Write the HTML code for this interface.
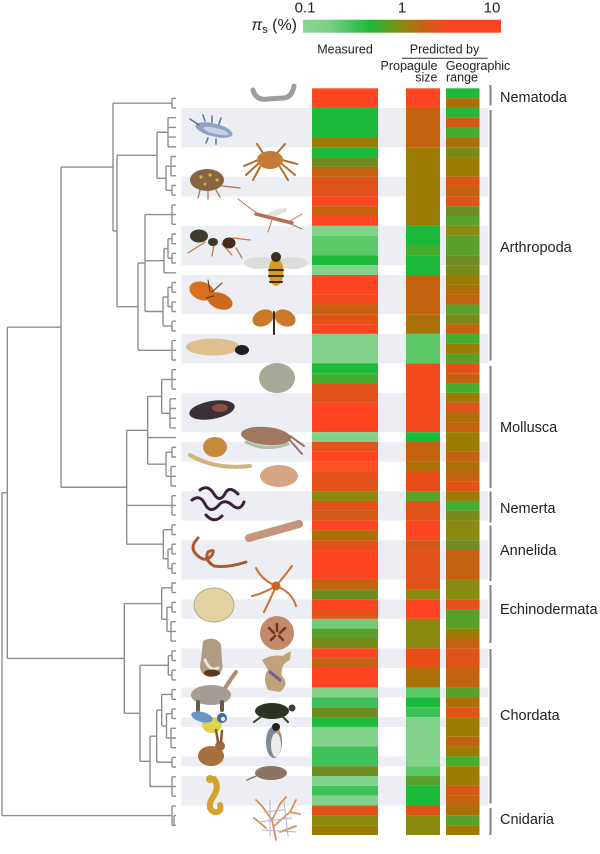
<!DOCTYPE html>
<html>
<head>
<meta charset="utf-8">
<style>
html,body{margin:0;padding:0;background:#fff;}
svg{display:block;}
text{font-family:"Liberation Sans",Arial,sans-serif;fill:#222;}
</style>
</head>
<body>
<svg width="600" height="854" viewBox="0 0 600 854" xmlns="http://www.w3.org/2000/svg">
<defs>
<linearGradient id="cb" x1="0" x2="1" y1="0" y2="0">
<stop offset="0" stop-color="#8bd595"/>
<stop offset="0.12" stop-color="#7dd08a"/>
<stop offset="0.34" stop-color="#1db93b"/>
<stop offset="0.50" stop-color="#8a8a10"/>
<stop offset="0.62" stop-color="#d05c14"/>
<stop offset="0.74" stop-color="#ff4521"/>
<stop offset="1" stop-color="#ff4521"/>
</linearGradient>
</defs>
<rect width="600" height="854" fill="#fff"/>

<!-- header -->
<text x="305" y="12.7" font-size="15" text-anchor="middle">0.1</text>
<text x="402" y="12.7" font-size="15" text-anchor="middle">1</text>
<text x="492" y="12.7" font-size="15" text-anchor="middle">10</text>
<rect x="303" y="19.7" width="198" height="13" fill="url(#cb)"/>
<text x="297" y="30" font-size="16" text-anchor="end"><tspan font-style="italic">π</tspan><tspan font-size="11" dy="3">s</tspan><tspan dy="-3"> (%)</tspan></text>
<text x="345" y="53.3" font-size="12.5" text-anchor="middle">Measured</text>
<text x="444.5" y="53.3" font-size="12.5" text-anchor="middle">Predicted by</text>
<line x1="401.7" y1="58.3" x2="487.7" y2="58.3" stroke="#333" stroke-width="1"/>
<text x="437.5" y="70" font-size="12.5" text-anchor="end">Propagule</text>
<text x="437.5" y="81.5" font-size="12.5" text-anchor="end">size</text>
<text x="445.7" y="70" font-size="12.5">Geographic</text>
<text x="446" y="81.5" font-size="12.5">range</text>

<!-- gray bands + heatmap -->
<g transform="translate(0,88.3) scale(1,9.825)">
<g fill="#eceef3">
<rect x="181.5" y="2" width="306.5" height="4"/>
<rect x="181.5" y="9" width="306.5" height="2"/>
<rect x="181.5" y="14" width="306.5" height="4"/>
<rect x="181.5" y="19" width="306.5" height="4"/>
<rect x="181.5" y="25" width="306.5" height="3"/>
<rect x="181.5" y="31" width="306.5" height="4"/>
<rect x="181.5" y="36" width="306.5" height="2"/>
<rect x="181.5" y="41" width="306.5" height="3"/>
<rect x="181.5" y="46" width="306.5" height="4"/>
<rect x="181.5" y="52" width="306.5" height="2"/>
<rect x="181.5" y="57" width="306.5" height="2"/>
<rect x="181.5" y="61" width="306.5" height="1"/>
<rect x="181.5" y="64" width="306.5" height="1"/>
<rect x="181.5" y="68" width="306.5" height="1"/>
<rect x="181.5" y="70" width="306.5" height="3"/>
</g>
<!-- Measured -->
<g>
<rect x="312" width="66" y="0" height="2" fill="#ff4521"/>
<rect x="312" width="66" y="2" height="3" fill="#1db93b"/>
<rect x="312" width="66" y="5" height="1" fill="#9c7c02"/>
<rect x="312" width="66" y="6" height="1" fill="#1db93b"/>
<rect x="312" width="66" y="7" height="1" fill="#6e8c22"/>
<rect x="312" width="66" y="8" height="1" fill="#c4620f"/>
<rect x="312" width="66" y="9" height="2" fill="#e2531a"/>
<rect x="312" width="66" y="11" height="1" fill="#ff4521"/>
<rect x="312" width="66" y="12" height="1" fill="#c4620f"/>
<rect x="312" width="66" y="13" height="1" fill="#ff4521"/>
<rect x="312" width="66" y="14" height="1" fill="#82d18b"/>
<rect x="312" width="66" y="15" height="2" fill="#5dc868"/>
<rect x="312" width="66" y="17" height="1" fill="#1db93b"/>
<rect x="312" width="66" y="18" height="1" fill="#82d18b"/>
<rect x="312" width="66" y="19" height="2" fill="#ff4521"/>
<rect x="312" width="66" y="21" height="1" fill="#f44a1e"/>
<rect x="312" width="66" y="22" height="1" fill="#c4620f"/>
<rect x="312" width="66" y="23" height="1" fill="#e2531a"/>
<rect x="312" width="66" y="24" height="1" fill="#ff4521"/>
<rect x="312" width="66" y="25" height="3" fill="#82d18b"/>
<rect x="312" width="66" y="28" height="1" fill="#1db93b"/>
<rect x="312" width="66" y="29" height="1" fill="#45ac30"/>
<rect x="312" width="66" y="30" height="2" fill="#e2531a"/>
<rect x="312" width="66" y="32" height="3" fill="#ff4521"/>
<rect x="312" width="66" y="35" height="1" fill="#82d18b"/>
<rect x="312" width="66" y="36" height="1" fill="#e2531a"/>
<rect x="312" width="66" y="37" height="1" fill="#ff4521"/>
<rect x="312" width="66" y="38" height="1" fill="#ff5026"/>
<rect x="312" width="66" y="39" height="2" fill="#e2531a"/>
<rect x="312" width="66" y="41" height="1" fill="#898a10"/>
<rect x="312" width="66" y="42" height="1" fill="#e2531a"/>
<rect x="312" width="66" y="43" height="1" fill="#d25a14"/>
<rect x="312" width="66" y="44" height="1" fill="#ff4521"/>
<rect x="312" width="66" y="45" height="1" fill="#ad6f08"/>
<rect x="312" width="66" y="46" height="1" fill="#e2531a"/>
<rect x="312" width="66" y="47" height="3" fill="#ff4521"/>
<rect x="312" width="66" y="50" height="1" fill="#c4620f"/>
<rect x="312" width="66" y="51" height="1" fill="#6e8c22"/>
<rect x="312" width="66" y="52" height="1" fill="#ff4521"/>
<rect x="312" width="66" y="53" height="1" fill="#e2531a"/>
<rect x="312" width="66" y="54" height="1" fill="#70cc78"/>
<rect x="312" width="66" y="55" height="1" fill="#58a02a"/>
<rect x="312" width="66" y="56" height="1" fill="#7a8a1a"/>
<rect x="312" width="66" y="57" height="1" fill="#ff4521"/>
<rect x="312" width="66" y="58" height="1" fill="#c4620f"/>
<rect x="312" width="66" y="59" height="2" fill="#ff4521"/>
<rect x="312" width="66" y="61" height="1" fill="#82d18b"/>
<rect x="312" width="66" y="62" height="1" fill="#3ec159"/>
<rect x="312" width="66" y="63" height="1" fill="#6e8c22"/>
<rect x="312" width="66" y="64" height="1" fill="#1db93b"/>
<rect x="312" width="66" y="65" height="2" fill="#82d18b"/>
<rect x="312" width="66" y="67" height="2" fill="#3ec159"/>
<rect x="312" width="66" y="69" height="1" fill="#6e8c22"/>
<rect x="312" width="66" y="70" height="1" fill="#82d18b"/>
<rect x="312" width="66" y="71" height="1" fill="#3ec159"/>
<rect x="312" width="66" y="72" height="1" fill="#82d18b"/>
<rect x="312" width="66" y="73" height="1" fill="#e2531a"/>
<rect x="312" width="66" y="74" height="1" fill="#898a10"/>
<rect x="312" width="66" y="75" height="1" fill="#9c7c02"/>
</g>
<!-- Propagule -->
<g>
<rect x="406" width="34" y="0" height="2" fill="#ff4521"/>
<rect x="406" width="34" y="2" height="4" fill="#c4620f"/>
<rect x="406" width="34" y="6" height="8" fill="#9c7c02"/>
<rect x="406" width="34" y="14" height="2" fill="#1db93b"/>
<rect x="406" width="34" y="16" height="1" fill="#45ac30"/>
<rect x="406" width="34" y="17" height="2" fill="#1db93b"/>
<rect x="406" width="34" y="19" height="4" fill="#c4620f"/>
<rect x="406" width="34" y="23" height="2" fill="#ad6f08"/>
<rect x="406" width="34" y="25" height="3" fill="#5dc868"/>
<rect x="406" width="34" y="28" height="7" fill="#f44a1e"/>
<rect x="406" width="34" y="35" height="1" fill="#1db93b"/>
<rect x="406" width="34" y="36" height="2" fill="#c4620f"/>
<rect x="406" width="34" y="38" height="1" fill="#ad6f08"/>
<rect x="406" width="34" y="39" height="2" fill="#e84c18"/>
<rect x="406" width="34" y="41" height="1" fill="#58a02a"/>
<rect x="406" width="34" y="42" height="2" fill="#e2531a"/>
<rect x="406" width="34" y="44" height="2" fill="#ff4521"/>
<rect x="406" width="34" y="46" height="1" fill="#d25a14"/>
<rect x="406" width="34" y="47" height="4" fill="#e2531a"/>
<rect x="406" width="34" y="51" height="1" fill="#898a10"/>
<rect x="406" width="34" y="52" height="2" fill="#ff4521"/>
<rect x="406" width="34" y="54" height="3" fill="#898a10"/>
<rect x="406" width="34" y="57" height="2" fill="#e84c18"/>
<rect x="406" width="34" y="59" height="2" fill="#ad6f08"/>
<rect x="406" width="34" y="61" height="1" fill="#5dc868"/>
<rect x="406" width="34" y="62" height="1" fill="#1db93b"/>
<rect x="406" width="34" y="63" height="1" fill="#3ec159"/>
<rect x="406" width="34" y="64" height="5" fill="#82d18b"/>
<rect x="406" width="34" y="69" height="1" fill="#5dc868"/>
<rect x="406" width="34" y="70" height="1" fill="#58a02a"/>
<rect x="406" width="34" y="71" height="2" fill="#1db93b"/>
<rect x="406" width="34" y="73" height="1" fill="#e2531a"/>
<rect x="406" width="34" y="74" height="2" fill="#898a10"/>
</g>
<!-- Geographic -->
<g>
<rect x="446" width="33.5" y="0" height="1" fill="#1db93b"/>
<rect x="446" width="33.5" y="1" height="1" fill="#ad6f08"/>
<rect x="446" width="33.5" y="2" height="1" fill="#2bb43a"/>
<rect x="446" width="33.5" y="3" height="1" fill="#d25a14"/>
<rect x="446" width="33.5" y="4" height="1" fill="#45ac30"/>
<rect x="446" width="33.5" y="5" height="1" fill="#ad6f08"/>
<rect x="446" width="33.5" y="6" height="1" fill="#7a8a1a"/>
<rect x="446" width="33.5" y="7" height="2" fill="#9c7c02"/>
<rect x="446" width="33.5" y="9" height="1" fill="#e2531a"/>
<rect x="446" width="33.5" y="10" height="1" fill="#c4620f"/>
<rect x="446" width="33.5" y="11" height="1" fill="#e2531a"/>
<rect x="446" width="33.5" y="12" height="1" fill="#6e8c22"/>
<rect x="446" width="33.5" y="13" height="1" fill="#58a02a"/>
<rect x="446" width="33.5" y="14" height="1" fill="#898a10"/>
<rect x="446" width="33.5" y="15" height="2" fill="#58a02a"/>
<rect x="446" width="33.5" y="17" height="1" fill="#6e8c22"/>
<rect x="446" width="33.5" y="18" height="1" fill="#7a8a1a"/>
<rect x="446" width="33.5" y="19" height="1" fill="#9c7c02"/>
<rect x="446" width="33.5" y="20" height="1" fill="#ad6f08"/>
<rect x="446" width="33.5" y="21" height="1" fill="#c4620f"/>
<rect x="446" width="33.5" y="22" height="1" fill="#58a02a"/>
<rect x="446" width="33.5" y="23" height="1" fill="#7a8a1a"/>
<rect x="446" width="33.5" y="24" height="1" fill="#c4620f"/>
<rect x="446" width="33.5" y="25" height="1" fill="#45ac30"/>
<rect x="446" width="33.5" y="26" height="1" fill="#9c7c02"/>
<rect x="446" width="33.5" y="27" height="1" fill="#58a02a"/>
<rect x="446" width="33.5" y="28" height="1" fill="#e2531a"/>
<rect x="446" width="33.5" y="29" height="1" fill="#c4620f"/>
<rect x="446" width="33.5" y="30" height="1" fill="#45ac30"/>
<rect x="446" width="33.5" y="31" height="1" fill="#9c7c02"/>
<rect x="446" width="33.5" y="32" height="1" fill="#e2531a"/>
<rect x="446" width="33.5" y="33" height="1" fill="#ad6f08"/>
<rect x="446" width="33.5" y="34" height="1" fill="#c4620f"/>
<rect x="446" width="33.5" y="35" height="2" fill="#9c7c02"/>
<rect x="446" width="33.5" y="37" height="1" fill="#c4620f"/>
<rect x="446" width="33.5" y="38" height="1" fill="#ad6f08"/>
<rect x="446" width="33.5" y="39" height="1" fill="#c4620f"/>
<rect x="446" width="33.5" y="40" height="1" fill="#e2531a"/>
<rect x="446" width="33.5" y="41" height="1" fill="#9c7c02"/>
<rect x="446" width="33.5" y="42" height="1" fill="#45ac30"/>
<rect x="446" width="33.5" y="43" height="1" fill="#7a8a1a"/>
<rect x="446" width="33.5" y="44" height="2" fill="#898a10"/>
<rect x="446" width="33.5" y="46" height="1" fill="#6e8c22"/>
<rect x="446" width="33.5" y="47" height="3" fill="#c4620f"/>
<rect x="446" width="33.5" y="50" height="2" fill="#898a10"/>
<rect x="446" width="33.5" y="52" height="1" fill="#e2531a"/>
<rect x="446" width="33.5" y="53" height="2" fill="#58a02a"/>
<rect x="446" width="33.5" y="55" height="1" fill="#9c7c02"/>
<rect x="446" width="33.5" y="56" height="1" fill="#c4620f"/>
<rect x="446" width="33.5" y="57" height="2" fill="#e2531a"/>
<rect x="446" width="33.5" y="59" height="2" fill="#c4620f"/>
<rect x="446" width="33.5" y="61" height="1" fill="#58a02a"/>
<rect x="446" width="33.5" y="62" height="1" fill="#ad6f08"/>
<rect x="446" width="33.5" y="63" height="1" fill="#e2531a"/>
<rect x="446" width="33.5" y="64" height="2" fill="#9c7c02"/>
<rect x="446" width="33.5" y="66" height="1" fill="#c4620f"/>
<rect x="446" width="33.5" y="67" height="1" fill="#9c7c02"/>
<rect x="446" width="33.5" y="68" height="1" fill="#45ac30"/>
<rect x="446" width="33.5" y="69" height="2" fill="#9c7c02"/>
<rect x="446" width="33.5" y="71" height="1" fill="#d25a14"/>
<rect x="446" width="33.5" y="72" height="1" fill="#c4620f"/>
<rect x="446" width="33.5" y="73" height="1" fill="#ad6f08"/>
<rect x="446" width="33.5" y="74" height="1" fill="#58a02a"/>
<rect x="446" width="33.5" y="75" height="1" fill="#9c7c02"/>
</g>
</g>

<!-- group bars -->
<g fill="#808080">
<rect x="489.5" y="85" width="2" height="20.5"/>
<rect x="489.5" y="110" width="2" height="250.5"/>
<rect x="489.5" y="366" width="2" height="122"/>
<rect x="489.5" y="491.5" width="2" height="31"/>
<rect x="489.5" y="525.5" width="2" height="55.5"/>
<rect x="489.5" y="585" width="2" height="58"/>
<rect x="489.5" y="649" width="2" height="154.5"/>
<rect x="489.5" y="808" width="2" height="27"/>
</g>
<g font-size="14.5">
<text x="500" y="102">Nematoda</text>
<text x="500" y="252">Arthropoda</text>
<text x="500" y="432">Mollusca</text>
<text x="500" y="513">Nemerta</text>
<text x="500" y="555">Annelida</text>
<text x="500" y="614">Echinodermata</text>
<text x="500" y="720">Chordata</text>
<text x="500" y="824">Cnidaria</text>
</g>

<!-- tree -->
<path fill="none" stroke="#8b8e94" stroke-width="1.4" d="
M172,98.3V108 M172,98.3H176 M172,108H176 M113,103.15H172
M168,117.7V146.8 M168,117.7H176 M168,127.4H176 M168,137.1H176 M168,146.8H176 M157,132.25H168
M171,156.5V175.8 M171,156.5H176 M171,166.2H176 M171,175.8H176
M172,185.5V195.2 M172,185.5H176 M172,195.2H176
M166,166.2V190.35 M166,166.2H171 M166,190.35H172
M157,132.25V178.3 M157,178.3H166
M172,204.9V224.3 M172,204.9H176 M172,214.6H176 M172,224.3H176
M172,234V243.7 M172,234H176 M172,243.7H176
M172,253.4V263.1 M172,253.4H176 M172,263.1H176
M168,238.85V258.25 M168,238.85H172 M168,258.25H172
M164,272.8H176 M164,248.55V272.8 M164,248.55H168
M172,282.5V292.2 M172,282.5H176 M172,292.2H176
M172,301.9V311.5 M172,301.9H176 M172,311.5H176
M168,287.35V306.7 M168,287.35H172 M168,306.7H172
M172,321.2V330.9 M172,321.2H176 M172,330.9H176
M163,297V326.05 M163,297H168 M163,326.05H172
M145,214.6V311.5 M145,214.6H172 M145,260.7H164 M145,311.5H163
M172,340.6V360 M172,340.6H176 M172,350.3H176 M172,360H176
M138,263.05V350.3 M138,263.05H145 M138,350.3H172
M117,155.3V306.7 M117,155.3H157 M117,306.7H138
M113,103.15V231 M113,231H117
M172,369.7V389.1 M172,369.7H176 M172,379.4H176 M172,389.1H176
M170,398.8V427.9 M170,398.8H176 M170,408.5H176 M170,418.2H176 M170,427.9H176
M161.7,379.4V413.35 M161.7,379.4H172 M161.7,413.35H170
M147.7,437.6H176
M172,447.3V457 M172,447.3H176 M172,457H176
M171,466.6V486 M171,466.6H176 M171,476.3H176 M171,486H176
M166,452.15V476.3 M166,452.15H172 M166,476.3H171
M147.7,396.4V464.2 M147.7,396.4H161.7 M147.7,464.2H166
M172,495.7V515.1 M172,495.7H176 M172,505.4H176 M172,515.1H176
M172,524.8V534.5 M172,524.8H176 M172,534.5H176
M172,544.2V553.9 M172,544.2H176 M172,553.9H176
M172,563.6V573.3 M172,563.6H176 M172,573.3H176
M168,549.05V568.45 M168,549.05H172 M168,568.45H172
M163.3,529.65V558.75 M163.3,529.65H172 M163.3,558.75H168
M126.7,430.3V544.2 M126.7,430.3H147.7 M126.7,505.4H172 M126.7,544.2H163.3
M61,167.1V487.25 M61,167.1H113 M61,487.25H126.7
M172,583V592.6 M172,583H176 M172,592.6H176
M172,602.3V612 M172,602.3H176 M172,612H176
M171,621.7V641.1 M171,621.7H176 M171,631.4H176 M171,641.1H176
M167,607.15V631.4 M167,607.15H172 M167,631.4H171
M161.7,587.8V619.3 M161.7,587.8H172 M161.7,619.3H167
M172,650.8V660.5 M172,650.8H176 M172,660.5H176
M172,670.2V679.9 M172,670.2H176 M172,679.9H176
M168.3,655.65V675.05 M168.3,655.65H172 M168.3,675.05H172
M172,689.6V699.3 M172,689.6H176 M172,699.3H176
M172,708.9V718.6 M172,708.9H176 M172,718.6H176
M171,728.3V747.7 M171,728.3H176 M171,738H176 M171,747.7H176
M166.5,713.75V738 M166.5,713.75H172 M166.5,738H171
M161.7,694.45V725.9 M161.7,694.45H172 M161.7,725.9H166.5
M172,757.4V767.1 M172,757.4H176 M172,767.1H176
M156.7,710.2V762.25 M156.7,710.2H161.7 M156.7,762.25H172
M172,776.8V796.2 M172,776.8H176 M172,786.5H176 M172,796.2H176
M150,736.2V786.5 M150,736.2H156.7 M150,786.5H172
M140,665.35V761.35 M140,665.35H168.3 M140,761.35H150
M124.3,603.55V713.35 M124.3,603.55H161.7 M124.3,713.35H140
M7.3,327.2V658.45 M7.3,327.2H61 M7.3,658.45H124.3
M172,805.9V825.3 M172,805.9H176 M174,815.6H176 M172,825.3H176 M174,815.6V825.3
M2,492.8V815.6 M2,492.8H7.3 M2,815.6H172
"/>

<!-- animals (simplified) -->
<g stroke-linecap="round" stroke-linejoin="round">
<!-- nematode -->
<path d="M253,90 Q256,101 268,99 L284,98 Q292,97 294,86" stroke="#9d9d9d" stroke-width="5" fill="none"/>
<!-- brine shrimp -->
<ellipse cx="214" cy="130" rx="19" ry="6.5" fill="#8ea3c4" transform="rotate(14 214 130)"/>
<ellipse cx="216" cy="131" rx="13" ry="3" fill="#c6d2e4" transform="rotate(14 216 131)"/>
<path d="M190,119 L199,125 M205,121 L203,115 M212,122 L212,116 M219,124 L221,118 M208,138 L206,143 M216,139 L216,144" stroke="#5d7092" stroke-width="1.5" fill="none"/>
<!-- crab -->
<path d="M258,160 L244,166 M258,164 L246,175 M260,167 L253,180 M282,160 L297,164 M282,164 L295,175 M280,167 L288,180 M263,153 L257,144 M277,153 L285,144" stroke="#b86a2a" stroke-width="2" fill="none"/>
<ellipse cx="270" cy="160" rx="13" ry="9" fill="#c57a35"/>
<!-- isopod -->
<path d="M200,190 L198,198 M208,191 L208,199 M216,190 L220,197 M222,186 L240,188" stroke="#b07050" stroke-width="1.3" fill="none"/>
<ellipse cx="207" cy="180" rx="17" ry="11" fill="#866545"/>
<circle cx="201" cy="177" r="1.6" fill="#e0b040"/><circle cx="210" cy="175" r="1.6" fill="#e0b040"/><circle cx="217" cy="180" r="1.6" fill="#e0b040"/><circle cx="205" cy="184" r="1.5" fill="#e0b040"/>
<!-- mosquito -->
<ellipse cx="276" cy="213" rx="12" ry="3" fill="#e6e0dc" transform="rotate(-20 276 213)"/>
<path d="M256,214 L292,223" stroke="#b87050" stroke-width="3.5" fill="none"/>
<path d="M262,217 L238,199 M272,220 L268,232 M286,222 L302,229 M290,221 L302,214" stroke="#b57656" stroke-width="1" fill="none"/>
<!-- ant -->
<path d="M205,242 L188,253 M214,245 L212,256 M222,244 L232,255 M233,238 L250,240 M236,248 L242,258" stroke="#c87a46" stroke-width="1.3" fill="none"/>
<ellipse cx="199" cy="236" rx="9" ry="6.5" fill="#3d3b2a"/>
<ellipse cx="213" cy="242" rx="5" ry="4" fill="#3a3a28"/>
<ellipse cx="229" cy="243" rx="6.5" ry="5.5" fill="#4a2a1a"/>
<!-- bee -->
<ellipse cx="259" cy="263" rx="15" ry="6" fill="#dedcd8"/>
<ellipse cx="293" cy="263" rx="15" ry="6" fill="#dedcd8"/>
<ellipse cx="276" cy="272" rx="7.5" ry="14" fill="#d99a22"/>
<path d="M269,270 H283 M269,276 H283 M270,282 H282" stroke="#3a2a10" stroke-width="2" fill="none"/>
<circle cx="276" cy="257" r="5" fill="#3a3020"/>
<!-- checkerspot -->
<ellipse cx="202" cy="291" rx="13" ry="9" fill="#d8701e" transform="rotate(20 202 291)"/>
<ellipse cx="220" cy="301" rx="13" ry="8" fill="#cd6a1c" transform="rotate(20 220 301)"/>
<path d="M206,298 L214,296 M210,292 L208,280 M212,292 L222,283" stroke="#5a3010" stroke-width="1" fill="none"/>
<!-- small butterfly -->
<ellipse cx="263" cy="318" rx="11" ry="8" fill="#c97a28" transform="rotate(-25 263 318)"/>
<ellipse cx="285" cy="318" rx="11" ry="8" fill="#c97a28" transform="rotate(25 285 318)"/>
<path d="M274,312 V334" stroke="#3a2a20" stroke-width="2" fill="none"/>
<!-- larva -->
<ellipse cx="213" cy="347" rx="27" ry="8.5" fill="#dfbf8e"/>
<ellipse cx="242" cy="350" rx="7" ry="5" fill="#1f1f1f"/>
<!-- limpet -->
<ellipse cx="277" cy="378" rx="18" ry="15" fill="#a7a897"/>
<!-- mussel -->
<ellipse cx="212" cy="410" rx="23" ry="9" fill="#3c3038" transform="rotate(-10 212 410)"/>
<ellipse cx="220" cy="408" rx="8" ry="4" fill="#8a5040"/>
<!-- cuttlefish -->
<ellipse cx="266" cy="436" rx="25" ry="9" fill="#a07860" transform="rotate(5 266 436)"/>
<path d="M246,442 Q266,452 288,444" stroke="#a8c0a0" stroke-width="3" fill="none"/>
<path d="M288,438 L302,454 M290,436 L304,446" stroke="#9a7060" stroke-width="2" fill="none"/>
<!-- snail -->
<path d="M190,455 Q215,470 250,466" stroke="#d0b47a" stroke-width="4" fill="none"/>
<ellipse cx="215" cy="447" rx="12" ry="10" fill="#c58a3a"/>
<!-- snail shell 2 -->
<ellipse cx="279" cy="476" rx="19" ry="11" fill="#d6a584"/>
<!-- nemertean -->
<path d="M192,500 Q200,494 205,504 Q210,514 218,506 Q224,498 232,505 Q240,512 244,502 M200,490 Q208,484 214,494 Q220,504 226,492 Q230,486 238,494 M206,515 Q214,524 222,516" stroke="#3b2233" stroke-width="3" fill="none"/>
<!-- lugworm -->
<path d="M249,538 L299,524" stroke="#c4947c" stroke-width="8" fill="none"/>
<!-- earthworm -->
<path d="M198,538 Q188,548 198,556 Q206,563 212,555 Q216,548 208,552 Q204,560 214,566 Q228,568 246,562" stroke="#a65a2e" stroke-width="3" fill="none"/>
<!-- brittle star -->
<path d="M276,586 Q262,580 256,568 M276,586 Q286,574 292,566 M276,586 Q292,592 296,606 M276,586 Q270,600 264,612 M276,586 Q262,594 252,596" stroke="#d06f2e" stroke-width="2" fill="none"/>
<circle cx="276" cy="586" r="4.5" fill="#c8642a"/>
<!-- urchin test -->
<ellipse cx="214" cy="605" rx="20" ry="17" fill="#e2d2a2" stroke="#b8a880" stroke-width="1"/>
<!-- sand dollar -->
<circle cx="277" cy="633" r="17" fill="#c48a68"/>
<path d="M277,624 V631 M269,628 L274,633 M285,628 L280,633 M271,640 L275,636 M283,640 L279,636" stroke="#6a3a28" stroke-width="2.5" fill="none"/>
<!-- ascidian -->
<path d="M203,641 Q214,635 221,644 L222,662 Q225,676 210,677 Q197,675 201,660 Z" fill="#b39a82"/>
<path d="M205,660 Q210,672 218,668" stroke="#e8e4dc" stroke-width="3" fill="none"/>
<ellipse cx="212" cy="673" rx="8" ry="3.5" fill="#5a3a20"/>
<!-- other chordate -->
<path d="M262,660 Q272,654 282,656 L291,651 L290,660 Q280,664 282,676 Q290,684 280,692 L268,690 Q262,678 268,670 Z" fill="#c2a27a"/>
<path d="M270,672 L280,680" stroke="#7a5a8a" stroke-width="3" fill="none"/>
<!-- tortoise -->
<path d="M224,690 Q230,680 236,672" stroke="#b09070" stroke-width="4" fill="none"/>
<ellipse cx="211" cy="695" rx="20" ry="10" fill="#a39d92"/>
<path d="M198,702 V710 M222,702 V710" stroke="#6a5a4a" stroke-width="4" fill="none"/>
<!-- turtle -->
<ellipse cx="272" cy="711" rx="17" ry="8" fill="#2b3322"/>
<circle cx="292" cy="708" r="3.5" fill="#3a4030"/>
<path d="M262,716 L254,722 M282,716 L288,722" stroke="#3a4030" stroke-width="2" fill="none"/>
<!-- blue tit -->
<ellipse cx="212" cy="725" rx="10" ry="8" fill="#e2d24a"/>
<ellipse cx="202" cy="717" rx="11" ry="5" fill="#6a94c4" transform="rotate(15 202 717)"/>
<circle cx="222" cy="718" r="5" fill="#3a6aa8"/>
<circle cx="223" cy="719" r="2.2" fill="#f0f0f0"/>
<!-- penguin -->
<ellipse cx="274" cy="742" rx="8" ry="16" fill="#7f8a94"/>
<ellipse cx="276" cy="745" rx="5" ry="12" fill="#ececec"/>
<circle cx="276" cy="727" r="4" fill="#222"/>
<circle cx="278" cy="732" r="1.8" fill="#e8a030"/>
<!-- hare -->
<ellipse cx="211" cy="756" rx="13" ry="10" fill="#a7703f"/>
<ellipse cx="220" cy="746" rx="5" ry="5" fill="#a06a3c"/>
<path d="M218,742 L216,730 M221,742 L222,731" stroke="#8a5a34" stroke-width="2.5" fill="none"/>
<!-- shrew -->
<path d="M256,776 L247,780" stroke="#8c7462" stroke-width="1.5" fill="none"/>
<ellipse cx="271" cy="773" rx="16" ry="7" fill="#8c7462"/>
<!-- seahorse -->
<path d="M214,779 Q220,787 213,797 Q206,808 214,812 Q222,813 220,805" stroke="#d3a231" stroke-width="6" fill="none"/>
<circle cx="210" cy="779" r="4" fill="#d3a231"/>
<!-- sea fan -->
<path d="M276,840 L272,820 L262,806 M272,820 L280,804 M274,826 L290,812 L296,800 M290,812 L300,814 M266,828 L254,818 M280,832 L296,826 M262,806 L256,800 M280,804 L286,797" stroke="#d88f5a" stroke-width="1.8" fill="none"/>
<path d="M264,812 L284,810 M258,822 L292,818 M262,830 L296,832 M270,800 L270,836 M284,802 L288,836" stroke="#b4aedb" stroke-width="1" fill="none"/>
</g>
</svg>
</body>
</html>
